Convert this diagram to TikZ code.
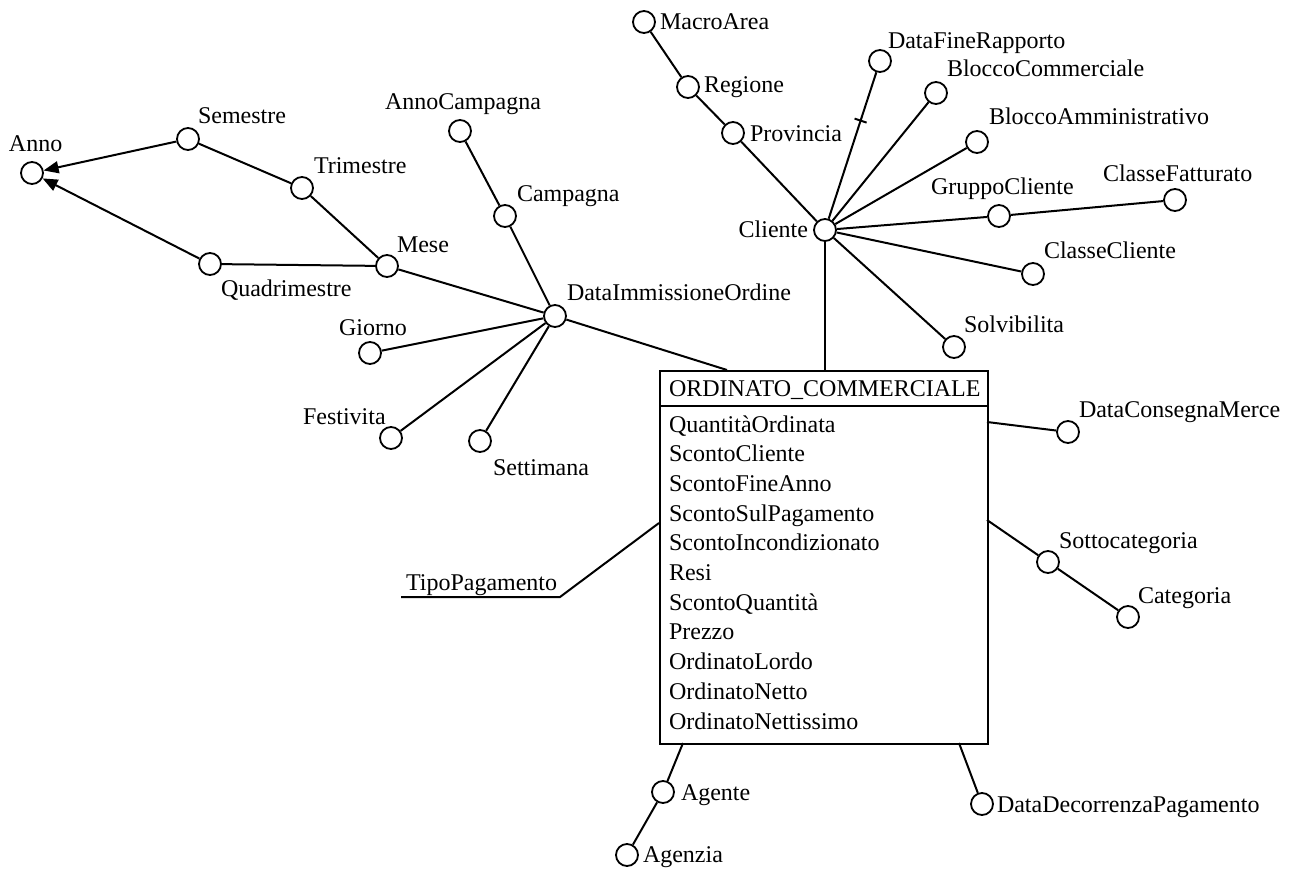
\documentclass[tikz,border=0pt]{standalone}
\usepackage{fontspec}
\setmainfont{Liberation Serif}
\usetikzlibrary{arrows.meta}
\begin{document}
\begin{tikzpicture}[x=1pt,y=-1pt, line width=2pt,
  att/.style={draw, circle, inner sep=0pt, minimum size=22pt, line width=1.8pt},
  lbl/.style={anchor=base west, inner sep=0pt, font=\fontsize{24}{29}\selectfont},
  arr/.style={-{Triangle[length=15pt,width=12pt]}}]
\useasboundingbox (0,0) rectangle (1298,869);
% fact table
\node[draw, rectangle, line width=2pt, anchor=north west, minimum width=328pt, minimum height=373pt, inner sep=0pt] (fact) at (659,370) {};
\draw[line width=2pt] (fact.north west |- 0,406) -- (fact.north east |- 0,406);
\node[lbl] (title) at (668,396) {ORDINATO\_COMMERCIALE};
\foreach \t [count=\i from 0] in {QuantitàOrdinata,ScontoCliente,ScontoFineAnno,ScontoSulPagamento,ScontoIncondizionato,Resi,ScontoQuantità,Prezzo,OrdinatoLordo,OrdinatoNetto,OrdinatoNettissimo}
  \node[lbl] (m\i) at (668,{432+29.7*\i}) {\t};
% attachment points on the box
\coordinate (pDio) at (727,370);
\coordinate (pCli) at (825,370);
\coordinate (pDcm) at (987,422);
\coordinate (pSot) at (987,520);
\coordinate (pTip) at (659,523);
\coordinate (pAge) at (683,743);
\coordinate (pDdp) at (959,743);
% time hierarchy
\node[att] (anno) at (32,173) {};
\node[att] (sem) at (188,139) {};
\node[att] (tri) at (302,188) {};
\node[att] (mese) at (387,266) {};
\node[att] (quad) at (210,264) {};
\node[att] (dio) at (555,316) {};
\node[att] (annoc) at (460,131) {};
\node[att] (camp) at (505,216) {};
\node[att] (gio) at (370,353) {};
\node[att] (fest) at (391,438) {};
\node[att] (sett) at (480,441) {};
\node[lbl] (tanno) at (8,152) {Anno};
\node[lbl] (tsem) at (197,124) {Semestre};
\node[lbl] (ttri) at (313,174) {Trimestre};
\node[lbl] (tmese) at (396,252) {Mese};
\node[lbl] (tquad) at (220,296) {Quadrimestre};
\node[lbl] (tdio) at (566,300) {DataImmissioneOrdine};
\node[lbl] (tannoc) at (384,110) {AnnoCampagna};
\node[lbl] (tcamp) at (516,202) {Campagna};
\node[lbl] (tgio) at (338,335) {Giorno};
\node[lbl] (tfest) at (302,424) {Festivita};
\node[lbl] (tsett) at (492,475) {Settimana};
\draw[arr] (sem) -- (anno);
\draw[arr] (quad) -- (anno);
\draw (sem) -- (tri);
\draw (tri) -- (mese);
\draw (quad) -- (mese);
\draw (mese) -- (dio);
\draw (annoc) -- (camp);
\draw (camp) -- (dio);
\draw (gio) -- (dio);
\draw (fest) -- (dio);
\draw (sett) -- (dio);
\draw (dio) -- (pDio);
% cliente hierarchy
\node[att] (cli) at (825,230) {};
\node[att] (macro) at (644,22) {};
\node[att] (reg) at (688,87) {};
\node[att] (prov) at (733,133) {};
\node[att] (dfr) at (880,61) {};
\node[att] (bcom) at (936,93) {};
\node[att] (bamm) at (977,142) {};
\node[att] (grp) at (999,216) {};
\node[att] (cfat) at (1175,200) {};
\node[att] (ccli) at (1033,274) {};
\node[att] (solv) at (954,347) {};
\node[lbl] (tmacro) at (659,30) {MacroArea};
\node[lbl] (treg) at (703,93) {Regione};
\node[lbl] (tprov) at (749,142) {Provincia};
\node[lbl, anchor=base east] (tcli) at (809,237) {Cliente};
\node[lbl] (tdfr) at (887,49) {DataFineRapporto};
\node[lbl] (tbcom) at (946,77) {BloccoCommerciale};
\node[lbl] (tbamm) at (988,125) {BloccoAmministrativo};
\node[lbl] (tgrp) at (930,195) {GruppoCliente};
\node[lbl] (tcfat) at (1102,182) {ClasseFatturato};
\node[lbl] (tccli) at (1043,258) {ClasseCliente};
\node[lbl] (tsolv) at (963,332) {Solvibilita};
\draw (macro) -- (reg);
\draw (reg) -- (prov);
\draw (prov) -- (cli);
\draw (cli) -- (dfr) coordinate[pos=0.67] (tick);
\draw ([shift={(-6,-2)}]tick) -- ([shift={(6,2)}]tick);
\draw (cli) -- (bcom);
\draw (cli) -- (bamm);
\draw (cli) -- (grp);
\draw (grp) -- (cfat);
\draw (cli) -- (ccli);
\draw (cli) -- (solv);
\draw (cli) -- (pCli);
% right side
\node[att] (dcm) at (1068,432) {};
\node[att] (sot) at (1048,562) {};
\node[att] (cat) at (1128,617) {};
\node[lbl] (tdcm) at (1078,417) {DataConsegnaMerce};
\node[lbl] (tsot) at (1058,548) {Sottocategoria};
\node[lbl] (tcat) at (1137,603) {Categoria};
\draw (pDcm) -- (dcm);
\draw (pSot) -- (sot);
\draw (sot) -- (cat);
% bottom
\node[att] (age) at (663,792) {};
\node[att] (agz) at (627,855) {};
\node[att] (ddp) at (982,804) {};
\node[lbl] (tage) at (680,800) {Agente};
\node[lbl] (tagz) at (642,862) {Agenzia};
\node[lbl] (tddp) at (996,812) {DataDecorrenzaPagamento};
\draw (pAge) -- (age);
\draw (age) -- (agz);
\draw (pDdp) -- (ddp);
% TipoPagamento
\coordinate (tipK) at (560,597);
\coordinate (tipE) at (401,597);
\node[lbl] (ttip) at (405,590) {TipoPagamento};
\draw (pTip) -- (tipK) -- (tipE);
\end{tikzpicture}
\end{document}
